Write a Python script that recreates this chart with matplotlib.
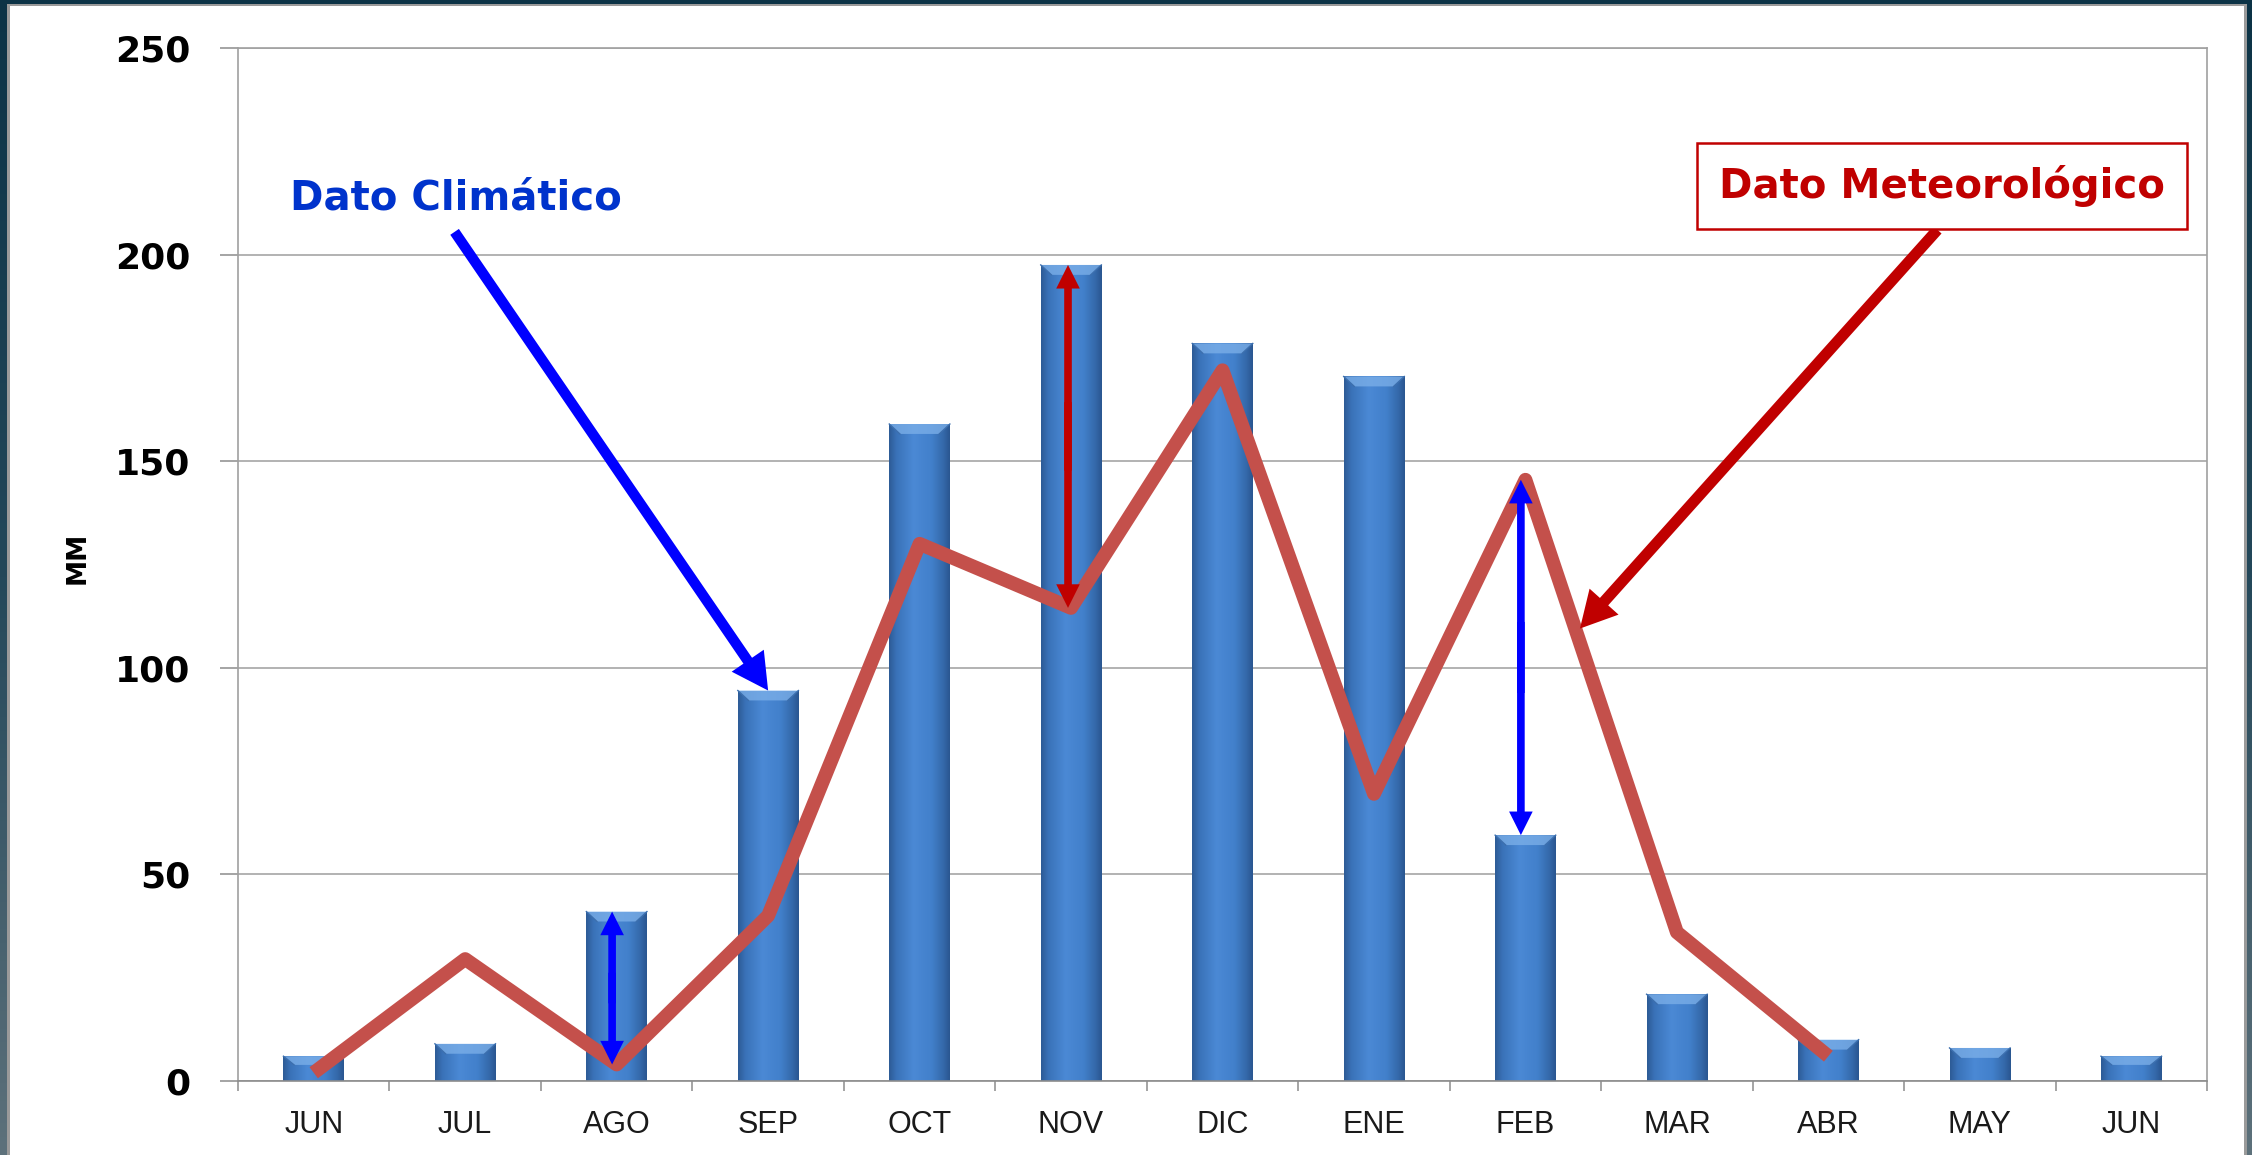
import numpy as np
import matplotlib
matplotlib.use("Agg")
import matplotlib.pyplot as plt
from matplotlib.patches import Polygon, Rectangle
from matplotlib.colors import LinearSegmentedColormap

# Monthly precipitation (mm)
months = ["JUN", "JUL", "AGO", "SEP", "OCT", "NOV", "DIC",
          "ENE", "FEB", "MAR", "ABR", "MAY", "JUN"]
climate_mm = [6, 9, 41, 94.5, 159, 197.5, 178.5, 170.5, 59.5, 21, 10, 8, 6]
observed_mm = [2, 29.5, 4, 40, 130, 114.5, 172, 69.5, 145.5, 36, 6]  # JUN .. ABR
y_ticks = [0, 50, 100, 150, 200, 250]

W, H = 2252, 1155
fig = plt.figure(figsize=(W / 100, H / 100), dpi=100)
fig.patch.set_facecolor("white")

# frame strips around the slide
edge_cmap = LinearSegmentedColormap.from_list("edge", ["#0c3346", "#24485a", "#5d717b"])
for rect in ([0, 0, 7 / W, 1], [1 - 5 / W, 0, 5 / W, 1]):
    eax = fig.add_axes(rect)
    eax.imshow(np.linspace(0, 1, 256).reshape(-1, 1), cmap=edge_cmap, aspect="auto")
    eax.set_axis_off()
tax = fig.add_axes([0, 1 - 4 / H, 1, 4 / H])
tax.set_facecolor("#0c3346")
tax.set_xticks([]); tax.set_yticks([])
for s in tax.spines.values():
    s.set_visible(False)
for r in ([7 / W, 0, 3 / W, 1 - 4 / H], [1 - 8 / W, 0, 3 / W, 1 - 4 / H],
          [7 / W, 1 - 6 / H, 1 - 15 / W, 2 / H]):
    fig.add_artist(Rectangle((r[0], r[1]), r[2], r[3], transform=fig.transFigure,
                             facecolor="#9a9a9a", edgecolor="none"))

ax = fig.add_axes([238 / W, 1 - 1081 / H, (2207 - 238) / W, (1081 - 48) / H])
x = np.arange(len(months))

# bars with a horizontal shading and a bevelled top
bar_cmap = LinearSegmentedColormap.from_list(
    "bar", [(0, "#2d5b96"), (0.12, "#3a72b8"), (0.4, "#4b89d5"),
            (0.7, "#4280cb"), (0.9, "#3468a9"), (1, "#2a5690")])
bar_w = 0.40
bars = ax.bar(x, climate_mm, width=bar_w, color="none", edgecolor="none", zorder=2)
grad = np.linspace(0, 1, 128).reshape(1, -1)
for b, v in zip(bars, climate_mm):
    x0 = b.get_x()
    x1 = x0 + b.get_width()
    im = ax.imshow(grad, cmap=bar_cmap, extent=[x0, x1, 0, v], aspect="auto",
                   interpolation="bicubic", zorder=2)
    im.set_clip_path(b)
    d = min(2.4, v * 0.35)
    ins = 0.07
    ax.add_patch(Polygon([(x0, v), (x1, v), (x1 - ins, v - d), (x0 + ins, v - d)],
                         closed=True, facecolor="#7aaee8", edgecolor="none",
                         alpha=0.8, zorder=2.5))
    ax.plot([x0, x0 + ins], [v, v - d], color="#3c6fae", lw=1, zorder=2.6)
    ax.plot([x1, x1 - ins], [v, v - d], color="#3c6fae", lw=1, zorder=2.6)

# observed line
ax.plot(x[:len(observed_mm)], observed_mm, color="#c4504b", lw=10,
        solid_joinstyle="round", solid_capstyle="butt", zorder=4)


def double_arrow(xc, y_a, y_b, color):
    mid = (y_a + y_b) / 2
    overlap = 0.1 * abs(y_b - y_a)
    for end, other in ((y_a, y_b), (y_b, y_a)):
        start = mid + np.sign(other - end) * overlap
        ax.annotate("", xy=(xc, end), xytext=(xc, start),
                    arrowprops=dict(width=5.5, headwidth=17, headlength=17,
                                    facecolor=color, edgecolor="none",
                                    shrink=0),
                    zorder=6)


double_arrow(1.97, observed_mm[2], climate_mm[2], "#0000ff")
double_arrow(4.98, observed_mm[5], climate_mm[5], "#c00000")
double_arrow(7.97, observed_mm[8], climate_mm[8], "#0000ff")

# callouts
ax.annotate("", xy=(3, climate_mm[3]), xytext=(0.93, 205.5),
            arrowprops=dict(width=7.5, headwidth=28, headlength=26,
                            facecolor="#0000ff", edgecolor="none", shrink=0),
            zorder=7)
ax.text(0.94, 213.5, "Dato Climático", color="#0033cc", fontsize=29,
        fontweight="bold", ha="center", va="center", zorder=8)

ax.annotate("", xy=(8.36, 109.5), xytext=(10.72, 206),
            arrowprops=dict(width=8, headwidth=28, headlength=26,
                            facecolor="#c00000", edgecolor="none", shrink=0),
            zorder=7)
ax.text(10.75, 216.6, "Dato Meteorológico", color="#c00000", fontsize=29,
        fontweight="bold", ha="center", va="center", zorder=8,
        bbox=dict(boxstyle="square,pad=0.55", facecolor="white",
                  edgecolor="#c00000", linewidth=1.8))

# axes styling
ax.set_xlim(-0.5, len(months) - 0.5)
ax.set_ylim(0, 250)
ax.set_yticks(y_ticks)
ax.set_yticklabels([str(t) for t in y_ticks], fontsize=26, fontweight="bold",
                   family="DejaVu Sans")
ax.set_xticks(x)
ax.set_xticklabels(months, fontsize=22, family="Liberation Sans", color="#1a1a1a")
ax.set_xticks(np.arange(-0.5, len(months), 1.0), minor=True)
ax.tick_params(axis="x", which="major", length=0, pad=21)
ax.tick_params(axis="x", which="minor", length=7, width=1.1, color="#8c8c8c",
               direction="out")
ax.tick_params(axis="y", length=13, width=1.1, color="#8c8c8c", pad=21)
ax.grid(axis="y", color="#a6a6a6", lw=1.2, zorder=0)
ax.set_axisbelow(True)
for s in ax.spines.values():
    s.set_color("#a0a0a0")
    s.set_linewidth(1.2)
ax.spines["bottom"].set_color("#8c8c8c")

fig.text(78 / W, 1 - 558 / H, "MM", rotation=90, fontsize=19, fontweight="bold",
         ha="center", va="center")

fig.savefig("out.png", dpi=100, facecolor="white")
